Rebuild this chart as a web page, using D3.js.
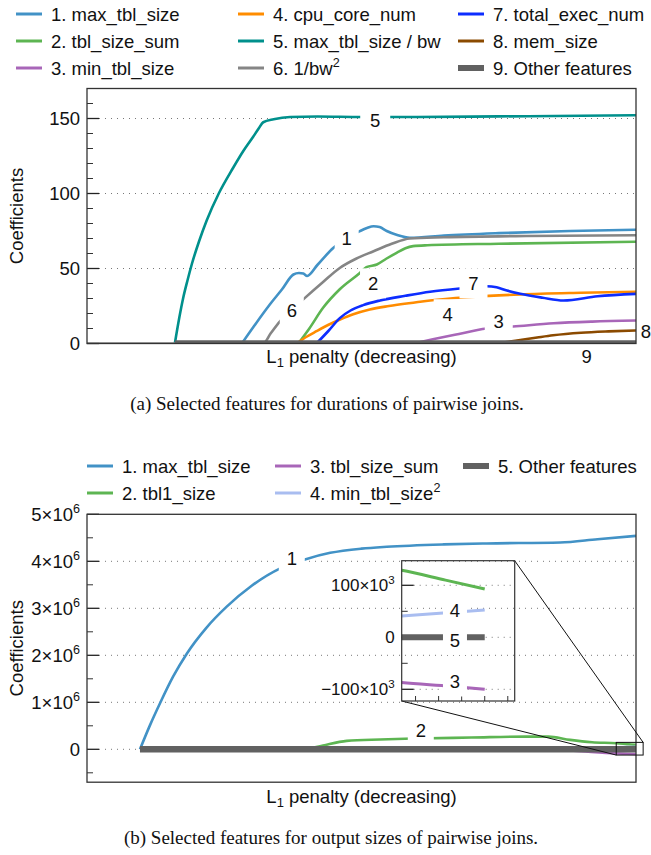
<!DOCTYPE html>
<html>
<head>
<meta charset="utf-8">
<script src="https://cdn.jsdelivr.net/npm/d3@7"></script>
<style>
  html, body { margin: 0; padding: 0; background: #fff; }
  svg text { font-family: "Liberation Sans", Arial, Helvetica, sans-serif; fill: #111; }
  svg text.caption { font-family: "Liberation Serif", "Times New Roman", serif; }
</style>
</head>
<body>
<div id="vis"></div>
<script>

////////////////////////////////////////
/////////////// Data ///////////////////
////////////////////////////////////////

// x is the position along the L1 path (0 = strongest penalty, 100 = weakest)

// (a) durations of pairwise joins
const topNames = ["1. max_tbl_size", "2. tbl_size_sum", "3. min_tbl_size",
  "4. cpu_core_num", "5. max_tbl_size / bw", "6. 1/bw^2",
  "7. total_exec_num", "8. mem_size", "9. Other features"];

const topMaxTblSize = [[28.2,0],[30.5,12],[33.3,26],[35.5,36],[37.6,46],[38.6,47],[39.4,46.6],[40.1,45],[42,52.5],[44.9,63.8],[47,69.5],[49.7,74.9],[51,77],[52.2,78.2],[53.3,77.6],[54.6,75],[56.5,72.3],[58.8,70.5],[65,72],[75,73.6],[88,75],[100,75.8]];
const topTblSizeSum = [[38.5,0],[40.5,10],[43,23.8],[46,36],[49.7,47],[50.9,50.9],[52.8,52.7],[54.5,56.5],[56.4,60.4],[58,63.5],[59.4,64.9],[62,65.5],[75,66.5],[100,67.8]];
const topMinTblSize = [[59.5,0],[63,2.8],[67,5.8],[72.8,10],[77.6,11.3],[85,13.5],[92,14.6],[100,15.3]];
const topCpuCoreNum = [[38.2,0],[40,4.5],[41.8,8.2],[44,12.5],[46.1,16],[48.5,19.5],[51.5,22.7],[55,25],[60,27.5],[62.5,28.7],[70,31],[78.9,32.7],[90,33.8],[100,34.5]];
const topMaxOverBw = [[16,0],[16.8,17],[17.5,30],[18.3,42],[19.1,53],[20.4,68],[21.8,82],[24,100],[26.6,117],[28.5,128.5],[30.3,138],[31.3,143.5],[32.1,147.5],[34,149.5],[37,151],[42,151.3],[50,151],[60,151],[75,151.4],[90,151.8],[100,152.2]];
const topInvBw2 = [[0,0],[32.1,0],[33.5,7],[35.2,14.9],[37.5,23],[39.7,30.4],[43,41],[46.1,50.5],[49,56.5],[52.2,61.5],[55.5,66.5],[58.8,70],[65,70.8],[80,71.7],[100,72.2]];
const topTotalExecNum = [[41.8,0],[44,8.5],[46.1,17.1],[48,22],[50.3,25.6],[53.4,28.7],[58,31.8],[62.5,34.5],[67.9,36.7],[72.8,38.2],[74.6,37.5],[76.5,35.3],[78.9,33.1],[83,30.5],[86.8,28.7],[93,31.5],[100,33.1]];
const topMemSize = [[74.6,0],[78,1.8],[82,4],[84.9,5.5],[90,7.2],[95,8.1],[100,8.7]];
const topOther = [[16,0],[100,0]];

const topYTicks = [0, 50, 100, 150];
const topYMinor = d3.range(10, 170, 10);

// curve labels, anchored in data units
const topLabels = [
  { t: "5", x: 52.5, y: 148.5, gap: 30 },
  { t: "1", x: 47.3, y: 70.1, gap: 24 },
  { t: "6", x: 37.3, y: 22.3, gap: 24 },
  { t: "2", x: 52.1, y: 40.1, gap: 26 },
  { t: "7", x: 70.4, y: 40.1, gap: 28 },
  { t: "4", x: 65.7, y: 19.5, gap: 28 },
  { t: "3", x: 75.0, y: 14.5, gap: 28 },
  { t: "8", x: 101.8, y: 7.9, gap: 0 },
  { t: "9", x: 91.0, y: -8.8, gap: 0 }
];

// (b) output sizes of pairwise joins (values in millions)
const bottomNames = ["1. max_tbl_size", "2. tbl1_size", "3. tbl_size_sum",
  "4. min_tbl_size^2", "5. Other features"];

const botMaxTblSize = [[9.65,0],[11.5,0.52],[13.3,0.98],[15.7,1.55],[18.2,2.04],[21.7,2.58],[25.4,3.03],[30,3.48],[35.2,3.85],[39.7,4.04],[44.3,4.18],[50,4.27],[54.6,4.31],[65,4.36],[72.8,4.38],[86.2,4.40],[93,4.47],[100,4.54]];
const botTbl1Size = [[40,0],[43,0.08],[47.3,0.18],[53.4,0.21],[60,0.23],[70,0.25],[80,0.27],[84,0.27],[88,0.2],[92,0.15],[96.4,0.129],[98.3,0.11],[100,0.093]];
const botTblSizeSum = [[85,0],[90,-0.04],[96.4,-0.087],[98.5,-0.094],[100,-0.1]];
const botMinTblSize2 = [[86,0],[92,0.025],[96.4,0.041],[100,0.0525]];
const botOther = [[9.65,0],[100,0]];

const botYTicks = [0, 1, 2, 3, 4, 5];
const botYMinor = [-0.5, 0.5, 1.5, 2.5, 3.5, 4.5];
const insetYTicks = [-0.1, 0, 0.1];
const insetYMinor = [-0.05, 0.05];
const insetXTicks = [97, 98, 99, 100, 101];

const bottomLabels = [
  { t: "1", x: 37.3, y: 4.06, gap: 26 },
  { t: "2", x: 60.8, y: 0.40, gap: 26 }
];
const insetLabels = [
  { t: "4", x: 98.71, y: 0.0525, gap: 24 },
  { t: "5", x: 98.71, y: -0.005, gap: 24 },
  { t: "3", x: 98.71, y: -0.085, gap: 24 }
];

////////////////////////////////////////
////////////// Styles //////////////////
////////////////////////////////////////

const col = {
  blue: "#4292c6", green: "#5db552", purple: "#a866b8", orange: "#ff8c00",
  teal: "#00908c", gray: "#858585", blue7: "#0d2dff", brown: "#8b4a00",
  other: "#616161", lightblue: "#a9bdf0"
};

const topSeries = [
  { name: topNames[4], data: topMaxOverBw, color: col.teal, w: 2.6 },
  { name: topNames[0], data: topMaxTblSize, color: col.blue, w: 2.6 },
  { name: topNames[5], data: topInvBw2, color: col.gray, w: 2.6 },
  { name: topNames[1], data: topTblSizeSum, color: col.green, w: 2.6 },
  { name: topNames[3], data: topCpuCoreNum, color: col.orange, w: 2.6 },
  { name: topNames[6], data: topTotalExecNum, color: col.blue7, w: 2.6 },
  { name: topNames[2], data: topMinTblSize, color: col.purple, w: 2.6 },
  { name: topNames[7], data: topMemSize, color: col.brown, w: 2.6 },
  { name: topNames[8], data: topOther, color: col.other, w: 6.5 }
];

const botSeries = [
  { name: bottomNames[0], data: botMaxTblSize, color: col.blue, w: 2.6 },
  { name: bottomNames[1], data: botTbl1Size, color: col.green, w: 2.6 },
  { name: bottomNames[2], data: botTblSizeSum, color: col.purple, w: 2.6 },
  { name: bottomNames[3], data: botMinTblSize2, color: col.lightblue, w: 2.6 },
  { name: bottomNames[4], data: botOther, color: col.other, w: 6.5 }
];

const width = 651, height = 855;
const fs = 18.5;

const svg = d3.select("#vis").append("svg")
  .attr("width", width)
  .attr("height", height);

////////////////////////////////////////
////////////// Helpers /////////////////
////////////////////////////////////////

// "a^b" -> a with superscript b
function richText(sel, str, size) {
  const parts = str.split("^");
  sel.append("tspan").text(parts[0]);
  if (parts[1]) {
    sel.append("tspan")
      .attr("font-size", size * 0.68)
      .attr("dy", -size * 0.42)
      .text(parts[1]);
  }
}

function legend(g, items, cols) {
  items.forEach((d, i) => {
    const c = cols[d.col];
    const y = d.row;
    g.append("line")
      .attr("x1", c.x).attr("x2", c.x + 26)
      .attr("y1", y).attr("y2", y)
      .attr("stroke", d.color)
      .attr("stroke-width", d.w > 4 ? 6 : 3);
    const t = g.append("text")
      .attr("x", c.x + 35).attr("y", y)
      .attr("dy", "0.36em")
      .attr("font-size", fs);
    richText(t, d.name, fs);
  });
}

function yTicks(g, y, x0, x1, ticks, minor, gridSkip) {
  g.selectAll(".minor").data(minor).join("line")
    .attr("x1", x0).attr("x2", x0 + 6)
    .attr("y1", d => y(d)).attr("y2", d => y(d))
    .attr("stroke", "#333").attr("stroke-width", 1);
  g.selectAll(".grid").data(ticks.filter(d => !gridSkip.includes(d))).join("line")
    .attr("x1", x0 + 12).attr("x2", x1)
    .attr("y1", d => y(d)).attr("y2", d => y(d))
    .attr("stroke", "#777").attr("stroke-width", 1)
    .attr("stroke-dasharray", "1,5");
  g.selectAll(".major").data(ticks).join("line")
    .attr("x1", x0).attr("x2", x0 + 12)
    .attr("y1", d => y(d)).attr("y2", d => y(d))
    .attr("stroke", "#222").attr("stroke-width", 1.3);
}

function curveLabels(g, labels, x, y, size) {
  labels.forEach(d => {
    if (d.gap > 0) {
      g.append("rect")
        .attr("x", x(d.x) - d.gap / 2).attr("y", y(d.y) - 15)
        .attr("width", d.gap).attr("height", 30)
        .attr("fill", "#fff");
    }
    g.append("text")
      .attr("x", x(d.x)).attr("y", y(d.y))
      .attr("dy", "0.36em")
      .attr("text-anchor", "middle")
      .attr("font-size", size)
      .text(d.t);
  });
}

function xTitle(g, cx, cy) {
  const t = g.append("text")
    .attr("x", cx).attr("y", cy)
    .attr("text-anchor", "middle")
    .attr("font-size", fs);
  t.append("tspan").text("L");
  t.append("tspan").attr("font-size", fs * 0.7).attr("dy", 4).text("1");
  t.append("tspan").attr("dy", -4).text(" penalty (decreasing)");
}

function yTitle(g, cx, cy) {
  g.append("text")
    .attr("transform", `translate(${cx},${cy}) rotate(-90)`)
    .attr("text-anchor", "middle")
    .attr("font-size", fs)
    .text("Coefficients");
}

const line = (x, y) => d3.line()
  .x(d => x(d[0]))
  .y(d => y(d[1]))
  .curve(d3.curveMonotoneX);

////////////////////////////////////////
////////////// Chart (a) ///////////////
////////////////////////////////////////

const topBox = { left: 87, right: 636, top: 88.5, bottom: 343.5 };

const xA = d3.scaleLinear().domain([0, 100]).range([topBox.left, topBox.right]);
const yA = d3.scaleLinear().domain([0, 170]).range([topBox.bottom, topBox.top]);

const gA = svg.append("g");

legend(gA, topSeries.map(s => ({
  name: s.name, color: s.color, w: s.w,
  col: Math.floor((+s.name[0] - 1) / 3),
  row: [14, 41, 68][(+s.name[0] - 1) % 3]
})), [{ x: 16 }, { x: 238 }, { x: 458 }]);

svg.append("defs").append("clipPath").attr("id", "clipA")
  .append("rect")
  .attr("x", topBox.left).attr("y", topBox.top)
  .attr("width", topBox.right - topBox.left)
  .attr("height", topBox.bottom - topBox.top);

yTicks(gA, yA, topBox.left, topBox.right, topYTicks, topYMinor, [0]);

gA.selectAll(".tlab").data(topYTicks).join("text")
  .attr("x", topBox.left - 7).attr("y", d => yA(d))
  .attr("dy", "0.36em")
  .attr("text-anchor", "end")
  .attr("font-size", fs)
  .text(d => d);

gA.append("g").attr("clip-path", "url(#clipA)")
  .selectAll("path").data(topSeries).join("path")
  .attr("d", d => line(xA, yA)(d.data))
  .attr("fill", "none")
  .attr("stroke", d => d.color)
  .attr("stroke-width", d => d.w)
  .attr("stroke-linejoin", "round");

curveLabels(gA, topLabels, xA, yA, fs);

gA.append("rect")
  .attr("x", topBox.left).attr("y", topBox.top)
  .attr("width", topBox.right - topBox.left)
  .attr("height", topBox.bottom - topBox.top)
  .attr("fill", "none").attr("stroke", "#333").attr("stroke-width", 1.3);

yTitle(gA, 23, (topBox.top + topBox.bottom) / 2);
xTitle(gA, (topBox.left + topBox.right) / 2, topBox.bottom + 19);

gA.append("text").attr("class", "caption")
  .attr("x", 327).attr("y", 410)
  .attr("text-anchor", "middle")
  .attr("font-size", 19)
  .text("(a)  Selected features for durations of pairwise joins.");

////////////////////////////////////////
////////////// Chart (b) ///////////////
////////////////////////////////////////

const botBox = { left: 87, right: 636, top: 514.3, bottom: 782.2 };

const xB = d3.scaleLinear().domain([0, 100]).range([botBox.left, botBox.right]);
const yB = d3.scaleLinear().domain([-0.7, 5]).range([botBox.bottom, botBox.top]);

const gB = svg.append("g");

legend(gB, botSeries.map(s => ({
  name: s.name, color: s.color, w: s.w,
  col: Math.floor((+s.name[0] - 1) / 2),
  row: [466, 493][(+s.name[0] - 1) % 2]
})), [{ x: 87 }, { x: 275 }, { x: 463 }]);

svg.select("defs").append("clipPath").attr("id", "clipB")
  .append("rect")
  .attr("x", botBox.left).attr("y", botBox.top)
  .attr("width", botBox.right - botBox.left)
  .attr("height", botBox.bottom - botBox.top);

yTicks(gB, yB, botBox.left, botBox.right, botYTicks, botYMinor, [5]);

const expLabel = (g, data, x, y, exp, size) => {
  const t = g.selectAll(null).data(data).join("text")
    .attr("x", x).attr("y", d => y(d))
    .attr("dy", "0.36em")
    .attr("text-anchor", "end")
    .attr("font-size", size);
  t.each(function (d) {
    const s = d3.select(this);
    if (d === 0) { s.text("0"); return; }
    const m = exp === 6 ? d : Math.round(d * 1000);
    s.append("tspan").text(`${m < 0 ? "\u2212" : ""}${Math.abs(m)}\u00d710`);
    s.append("tspan").attr("font-size", size * 0.68).attr("dy", -size * 0.42).text(exp);
  });
};

expLabel(gB, botYTicks, botBox.left - 7, yB, 6, fs);

gB.append("g").attr("clip-path", "url(#clipB)")
  .selectAll("path").data(botSeries).join("path")
  .attr("d", d => line(xB, yB)(d.data))
  .attr("fill", "none")
  .attr("stroke", d => d.color)
  .attr("stroke-width", d => d.w)
  .attr("stroke-linejoin", "round");

curveLabels(gB, bottomLabels, xB, yB, fs);

gB.append("rect")
  .attr("x", botBox.left).attr("y", botBox.top)
  .attr("width", botBox.right - botBox.left)
  .attr("height", botBox.bottom - botBox.top)
  .attr("fill", "none").attr("stroke", "#333").attr("stroke-width", 1.3);

yTitle(gB, 23, (botBox.top + botBox.bottom) / 2);
xTitle(gB, (botBox.left + botBox.right) / 2, botBox.bottom + 21);

gB.append("text").attr("class", "caption")
  .attr("x", 331).attr("y", 844)
  .attr("text-anchor", "middle")
  .attr("font-size", 19)
  .text("(b)  Selected features for output sizes of pairwise joins.");

////////////////////////////////////////
////////////// Inset ///////////////////
////////////////////////////////////////

const inBox = { left: 401.7, right: 514.7, top: 560.7, bottom: 701 };
const xI = d3.scaleLinear().domain([96.4, 101.3]).range([inBox.left, inBox.right]);
const yI = d3.scaleLinear().domain([-0.1225, 0.1473]).range([inBox.bottom, inBox.top]);

const gI = svg.append("g");

// zoom box on main chart + connectors
const zx0 = xB(xI.domain()[0]), zx1 = xB(xI.domain()[1]);
const zy0 = yB(yI.domain()[1]), zy1 = yB(yI.domain()[0]);

gI.append("rect")
  .attr("x", zx0).attr("y", zy0)
  .attr("width", zx1 - zx0).attr("height", zy1 - zy0)
  .attr("fill", "none").attr("stroke", "#111").attr("stroke-width", 1);
gI.append("line")
  .attr("x1", inBox.right).attr("y1", inBox.top)
  .attr("x2", zx1).attr("y2", zy0)
  .attr("stroke", "#111").attr("stroke-width", 1);
gI.append("line")
  .attr("x1", inBox.left).attr("y1", inBox.bottom)
  .attr("x2", zx0).attr("y2", zy1)
  .attr("stroke", "#111").attr("stroke-width", 1);

svg.select("defs").append("clipPath").attr("id", "clipI")
  .append("rect")
  .attr("x", inBox.left).attr("y", inBox.top)
  .attr("width", inBox.right - inBox.left)
  .attr("height", inBox.bottom - inBox.top);

yTicks(gI, yI, inBox.left, inBox.right, insetYTicks, insetYMinor, []);

gI.selectAll(".xt").data(insetXTicks).join("line")
  .attr("x1", d => xI(d)).attr("x2", d => xI(d))
  .attr("y1", inBox.bottom).attr("y2", inBox.bottom - 5)
  .attr("stroke", "#333");

expLabel(gI, insetYTicks, inBox.left - 7, yI, 3, 17);

gI.append("g").attr("clip-path", "url(#clipI)")
  .selectAll("path").data(botSeries.slice(1)).join("path")
  .attr("d", d => line(xI, yI)(d.data))
  .attr("fill", "none")
  .attr("stroke", d => d.color)
  .attr("stroke-width", d => d.w > 4 ? 6 : 3);

curveLabels(gI, insetLabels, xI, yI, fs);

gI.append("rect")
  .attr("x", inBox.left).attr("y", inBox.top)
  .attr("width", inBox.right - inBox.left)
  .attr("height", inBox.bottom - inBox.top)
  .attr("fill", "none").attr("stroke", "#333").attr("stroke-width", 1.2);

</script>
</body>
</html>
